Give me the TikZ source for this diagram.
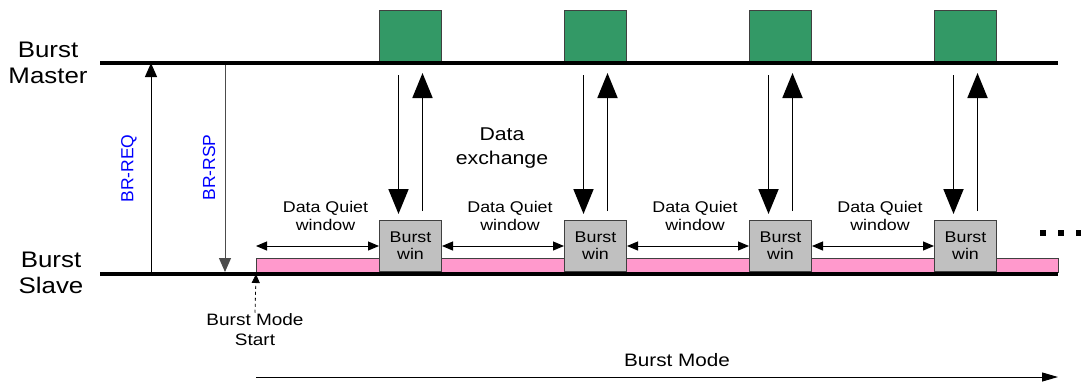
\documentclass[tikz,border=0pt]{standalone}
\usepackage{fontspec}
\setmainfont{Liberation Sans}[FakeStretch=1.15]
\newfontfamily\plainsans{Liberation Sans}
\usetikzlibrary{arrows.meta}
\usetikzlibrary{positioning}

\definecolor{slotgreen}{HTML}{339966}
\definecolor{wingray}{HTML}{C0C0C0}
\definecolor{quietpink}{HTML}{FF99CC}
\definecolor{edgegray}{HTML}{404040}

\begin{document}
\begin{tikzpicture}[x=1pt,y=-1pt,
    lane/.style={line width=4.5pt},
    lanelabel/.style={align=center, font=\fontsize{22.5}{26}\selectfont},
    slot/.style={rectangle, draw=edgegray, line width=1pt, minimum width=62pt, minimum height=51pt, inner sep=0pt, anchor=south west},
    xfer/.style={line width=1.8pt, -{Triangle[width=20pt,length=25pt]}},
    brarrow/.style={line width=1pt, -{Triangle[width=12pt,length=14pt]}},
    brlabel/.style={midway, rotate=90, text=blue, font=\plainsans\fontsize{17.5}{18}\selectfont},
    quiet/.style={line width=1pt, {Triangle[width=9pt,length=11pt]}-{Triangle[width=9pt,length=11pt]}},
    note/.style={align=center, inner sep=1pt, font=\fontsize{15.5}{18}\selectfont}]
  \useasboundingbox (0,0) rectangle (1081,381);

  % lanes
  \coordinate (mL) at (100,63);
  \coordinate (mR) at (1058,63);
  \coordinate (sL) at (100,274);
  \coordinate (sR) at (1058,274);
  \node[lanelabel] (master) at (48,63) {Burst\\Master};
  \node[lanelabel] (slave) at (51,273) {Burst\\Slave};

  % quiet band under the slave lane
  \coordinate (bmstart) at (256,274);
  \draw[draw=edgegray, line width=0.8pt, fill=quietpink] (256,258) rectangle (1058,272);

  % request / response
  \coordinate (reqB) at (151,274);
  \coordinate (reqT) at (151,63);
  \coordinate (rspT) at (225,63);
  \coordinate (rspB) at (225,272);
  \draw[brarrow] (reqB) -- (reqT) node[xshift=-22pt, brlabel] {BR-REQ};
  \draw[brarrow, draw=black!70] (rspT) -- (rspB) node[xshift=-16pt, brlabel] {BR-RSP};

  % bursts
  \foreach \i in {0,...,3} {
    \pgfmathsetmacro\bx{379+185*\i}
    \node[slot, fill=slotgreen] (gr\i) at (\bx,62) {};
    \node[slot, fill=wingray, align=center, font=\fontsize{15.5}{17}\selectfont] (bw\i) at (\bx,272) {Burst\\win};
    \draw[xfer] ([xshift=-12pt,yshift=-13pt]gr\i.south) -- ([xshift=-12pt,yshift=6pt]bw\i.north);
    \draw[xfer] ([xshift=12pt,yshift=9pt]bw\i.north) -- ([xshift=12pt,yshift=-11pt]gr\i.south);
  }

  \draw[lane] (mL) -- (mR);
  \draw[lane] (sL) -- (sR);

  % quiet windows
  \draw[quiet] (bmstart |- bw0.west) -- (bw0.west)
    node[note, midway, xshift=8pt, yshift=30pt] {Data Quiet\\window};
  \foreach \i/\j in {0/1,1/2,2/3} {
    \draw[quiet] (bw\i.east) -- (bw\j.west)
      node[note, midway, xshift=7pt, yshift=30pt] {Data Quiet\\window};
  }

  \node[note, font=\fontsize{18.5}{24}\selectfont] (xchg) at (502,148) {Data\\exchange};

  % more bursts follow
  \foreach \d in {0,1,2}
    \fill (1040+18*\d,230) rectangle ++(6,6);

  % burst mode
  \node[note, font=\fontsize{16.5}{20}\selectfont] (bmlabel) at (255,330) {Burst Mode\\Start};
  \draw[dashed, line width=0.8pt, -{Triangle[width=8pt,length=9pt]}] (bmlabel.north) -- (bmstart);
  \coordinate (modeL) at (256,377);
  \coordinate (modeR) at (1058,377);
  \draw[line width=1pt, -{Triangle[width=9pt,length=16pt]}] (modeL) -- (modeR)
    node[pos=0.525, yshift=17pt, font=\fontsize{18}{20}\selectfont] {Burst Mode};
\end{tikzpicture}
\end{document}
